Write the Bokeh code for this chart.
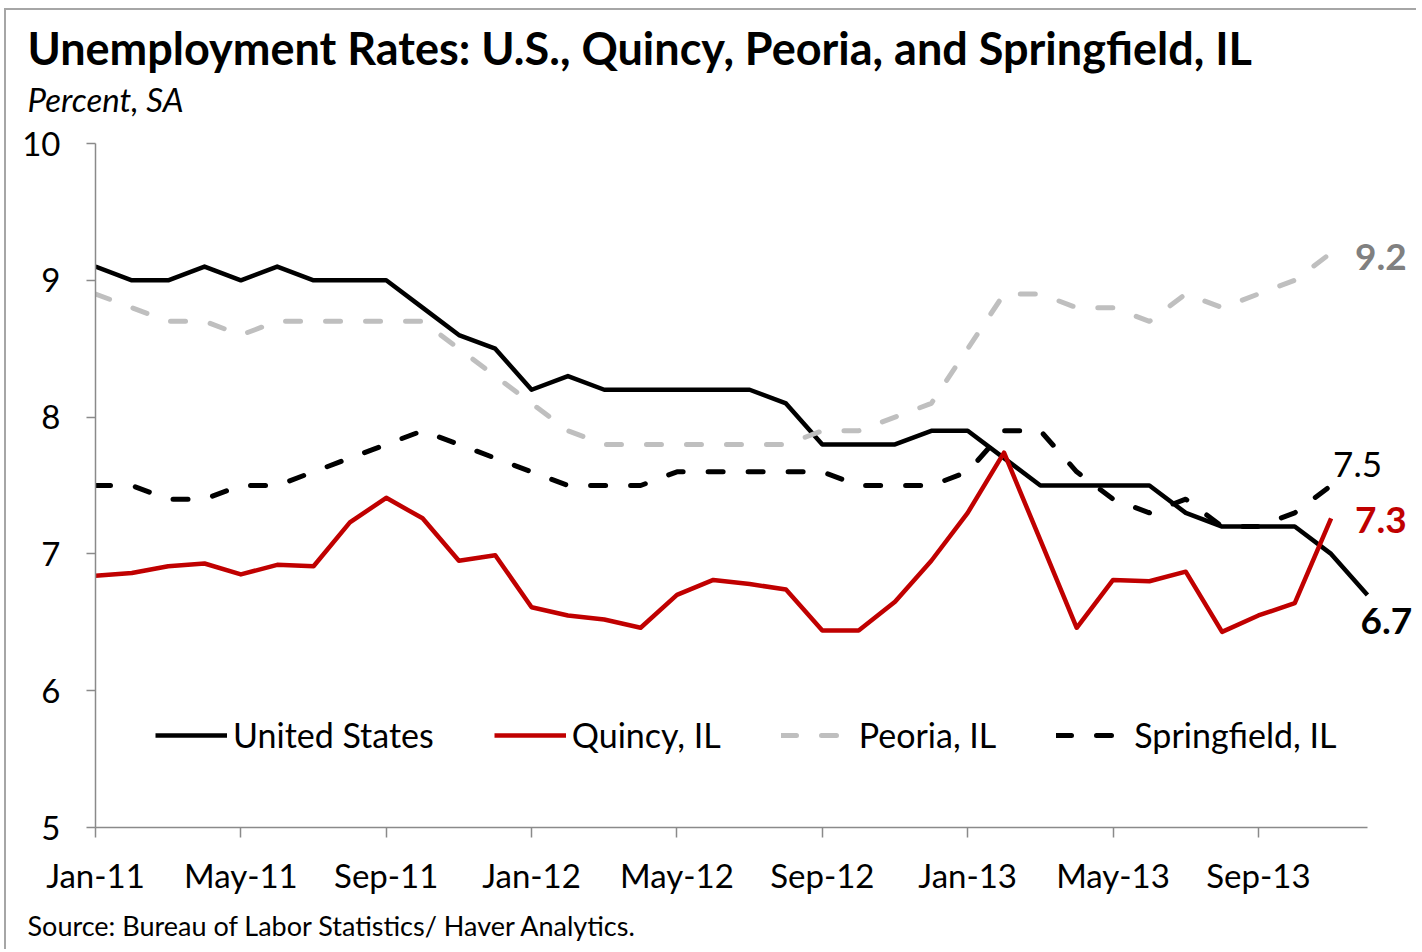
from bokeh.plotting import figure
from bokeh.models import ColumnDataSource, FixedTicker, Legend, LegendItem, Range1d, Title
from bokeh.core.properties import value
from bokeh.embed import file_html
from bokeh.resources import INLINE

# ---------------- data ----------------
months = ["Jan-11", "Feb-11", "Mar-11", "Apr-11", "May-11", "Jun-11", "Jul-11", "Aug-11", "Sep-11",
          "Oct-11", "Nov-11", "Dec-11", "Jan-12", "Feb-12", "Mar-12", "Apr-12", "May-12", "Jun-12",
          "Jul-12", "Aug-12", "Sep-12", "Oct-12", "Nov-12", "Dec-12", "Jan-13", "Feb-13", "Mar-13",
          "Apr-13", "May-13", "Jun-13", "Jul-13", "Aug-13", "Sep-13", "Oct-13", "Nov-13", "Dec-13"]

united_states = [9.1, 9.0, 9.0, 9.1, 9.0, 9.1, 9.0, 9.0, 9.0, 8.8, 8.6, 8.5,
                 8.2, 8.3, 8.2, 8.2, 8.2, 8.2, 8.2, 8.1, 7.8, 7.8, 7.8, 7.9,
                 7.9, 7.7, 7.5, 7.5, 7.5, 7.5, 7.3, 7.2, 7.2, 7.2, 7.0, 6.7]

quincy = [6.84, 6.86, 6.91, 6.93, 6.85, 6.92, 6.91, 7.23, 7.41, 7.26, 6.95, 6.99,
          6.61, 6.55, 6.52, 6.46, 6.70, 6.81, 6.78, 6.74, 6.44, 6.44, 6.65, 6.95,
          7.30, 7.74, 7.10, 6.46, 6.81, 6.80, 6.87, 6.43, 6.55, 6.64, 7.26]

peoria = [8.9, 8.8, 8.7, 8.7, 8.6, 8.7, 8.7, 8.7, 8.7, 8.7, 8.5, 8.3,
          8.1, 7.9, 7.8, 7.8, 7.8, 7.8, 7.8, 7.8, 7.9, 7.9, 8.0, 8.1,
          8.5, 8.9, 8.9, 8.8, 8.8, 8.7, 8.9, 8.8, 8.9, 9.0, 9.2]

springfield = [7.5, 7.5, 7.4, 7.4, 7.5, 7.5, 7.6, 7.7, 7.8, 7.9, 7.8, 7.7,
               7.6, 7.5, 7.5, 7.5, 7.6, 7.6, 7.6, 7.6, 7.6, 7.5, 7.5, 7.5,
               7.6, 7.9, 7.9, 7.6, 7.4, 7.3, 7.4, 7.2, 7.2, 7.3, 7.5]

tick_labels = ["Jan-11", "May-11", "Sep-11", "Jan-12", "May-12", "Sep-12", "Jan-13", "May-13", "Sep-13"]
y_ticks = [5, 6, 7, 8, 9, 10]

series_names = ["United States", "Quincy, IL", "Peoria, IL", "Springfield, IL"]

title_text = "Unemployment Rates:  U.S., Quincy, Peoria, and Springfield, IL"
subtitle_text = "Percent, SA"
source_text = "Source: Bureau of Labor Statistics/ Haver Analytics."

# ---------------- styling ----------------
FONT = "Lato"
BLACK = "#000000"
RED = "#C00000"
LIGHT = "#BFBFBF"
AXIS = "#8A8A8A"

n = len(months)
p = figure(width=1412, height=941, output_backend="svg", toolbar_location=None, title=None,
           x_range=Range1d(0, 36.35), y_range=Range1d(5, 10),
           min_border_left=89, min_border_right=2, min_border_top=133, min_border_bottom=110,
           background_fill_color="white", border_fill_color="white")
p.outline_line_color = None
p.xgrid.grid_line_color = None
p.ygrid.grid_line_color = None
p.styles = {"margin-left": "4px", "margin-top": "8px",
            "border-top": "2px solid #A6A6A6", "border-left": "2px solid #A6A6A6"}

idx_map = {m: i for i, m in enumerate(months)}

# x axis
p.xaxis.bounds = (0, n - 1)
p.xaxis.ticker = FixedTicker(ticks=[idx_map[t] for t in tick_labels])
p.xaxis.major_label_overrides = {idx_map[t]: t for t in tick_labels}
p.xaxis.minor_tick_line_color = None
p.xaxis.major_tick_in = 0
p.xaxis.major_tick_out = 10
p.xaxis.axis_line_color = AXIS
p.xaxis.axis_line_width = 1.5
p.xaxis.major_tick_line_color = AXIS
p.xaxis.major_tick_line_width = 1.5
p.xaxis.major_label_text_font = FONT
p.xaxis.major_label_text_font_size = "33px"
p.xaxis.major_label_text_color = BLACK
p.xaxis.major_label_standoff = 17

# y axis
p.yaxis.ticker = FixedTicker(ticks=y_ticks)
p.yaxis.minor_tick_line_color = None
p.yaxis.major_tick_in = 0
p.yaxis.major_tick_out = 9
p.yaxis.axis_line_color = AXIS
p.yaxis.axis_line_width = 1.5
p.yaxis.major_tick_line_color = AXIS
p.yaxis.major_tick_line_width = 1.5
p.yaxis.major_label_text_font = FONT
p.yaxis.major_label_text_font_size = "33px"
p.yaxis.major_label_text_color = BLACK
p.yaxis.major_label_standoff = 26

# ---------------- lines ----------------
src_us = ColumnDataSource(dict(x=list(range(len(united_states))), y=united_states))
src_q = ColumnDataSource(dict(x=list(range(len(quincy))), y=quincy))
src_p = ColumnDataSource(dict(x=list(range(len(peoria))), y=peoria))
src_s = ColumnDataSource(dict(x=list(range(len(springfield))), y=springfield))

r_us = p.line("x", "y", source=src_us, line_color=BLACK, line_width=4.5, line_join="round")
r_q = p.line("x", "y", source=src_q, line_color=RED, line_width=4.5, line_join="round")
r_p = p.line("x", "y", source=src_p, line_color=LIGHT, line_width=5, line_dash="15 25",
             line_cap="round", line_join="round")
r_s = p.line("x", "y", source=src_s, line_color=BLACK, line_width=5, line_dash="15 25",
             line_cap="round", line_join="round")

legend = Legend(items=[LegendItem(label=series_names[0], renderers=[r_us]),
                       LegendItem(label=series_names[1], renderers=[r_q]),
                       LegendItem(label=series_names[2], renderers=[r_p]),
                       LegendItem(label=series_names[3], renderers=[r_s])],
                orientation="horizontal", location=(60, 72),
                border_line_color=None, background_fill_alpha=0,
                padding=0, margin=0, spacing=60, label_standoff=6,
                glyph_width=72, glyph_height=40,
                label_text_font=FONT, label_text_font_size="34px", label_text_color=BLACK)
p.add_layout(legend, "center")

# ---------------- end labels ----------------
def end_label(series, color, bold, dx, dy, align="left", size="37px"):
    src = ColumnDataSource(dict(x=[len(series) - 1], y=[series[-1]], t=[f"{series[-1]:.1f}"]))
    p.text("x", "y", text="t", source=src, x_offset=dx, y_offset=dy,
           text_font=value(FONT), text_font_size=size, text_color=color,
           text_font_style="bold" if bold else "normal",
           text_align=align, text_baseline="middle")

end_label(peoria, "#808080", True, 24, 4)
end_label(springfield, BLACK, False, 2, -21, size="35px")
end_label(quincy, RED, True, 24, 2)
end_label(united_states, BLACK, True, 19, 26, align="center")

# ---------------- titles ----------------
p.add_layout(Title(text=subtitle_text, align="left", offset=-68, standoff=50,
                   text_font=FONT, text_font_size="33px", text_font_style="italic",
                   text_color=BLACK), "above")
p.add_layout(Title(text=title_text, align="left", offset=-68, standoff=-47,
                   text_font=FONT, text_font_size="45px", text_font_style="bold",
                   text_color=BLACK), "above")
p.add_layout(Title(text=source_text, align="left", offset=-68, standoff=19,
                   text_font=FONT, text_font_size="27px", text_font_style="normal",
                   text_color=BLACK), "below")

open("out.html", "w").write(file_html(p, INLINE))
